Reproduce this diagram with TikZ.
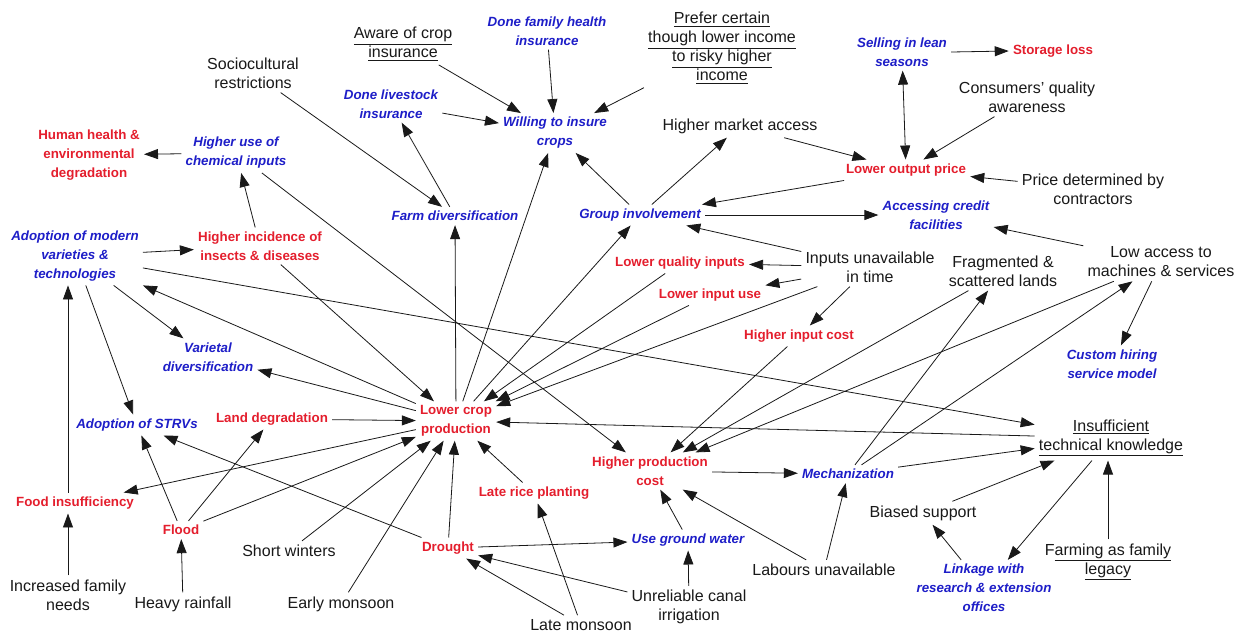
\documentclass[tikz,border=0pt]{standalone}
\usepackage{fontspec}
\setmainfont{Liberation Sans}
\usetikzlibrary{arrows.meta}
\definecolor{redtxt}{RGB}{228,30,45}
\definecolor{bluetxt}{RGB}{30,30,200}
\tikzset{
  base/.style={align=center, inner sep=3pt},
  bk/.style={base, font=\fontsize{12}{14.2}\selectfont, text=black!90},
  rd/.style={base, font=\fontsize{10}{14.2}\selectfont\bfseries, text=redtxt},
  bl/.style={base, font=\fontsize{10}{14.2}\selectfont\bfseries\itshape, text=bluetxt},
  tip/.style={Triangle[length=10.5pt,width=7.5pt]},
  link/.style={draw=black!90, line width=0.6pt, -{Triangle[length=10.5pt,width=7.5pt]}},
  both/.style={draw=black!90, line width=0.6pt, {Triangle[length=10.5pt,width=7.5pt]}-{Triangle[length=10.5pt,width=7.5pt]}}
}
\begin{document}
\begin{tikzpicture}[x=0.75pt,y=-0.75pt]
\useasboundingbox[fill=white] (0,0) rectangle (1245,633);

% causes and contexts (black)
\node[bk] (socio)   at (253,73)  {Sociocultural\\restrictions};
\node[bk] (aware)   at (403,44)  {\underline{Aware of crop}\\\underline{insurance}};
\node[bk] (prefer)  at (722,48)  {\underline{Prefer certain}\\\underline{though lower income}\\\underline{to risky higher}\\\underline{income}};
\node[bk] (market)  at (740,126) {Higher market access};
\node[bk] (consum)  at (1027,97) {Consumers' quality\\awareness};
\node[bk] (pricedet) at (1093,189) {Price determined by\\contractors};
\node[bk] (inputs)  at (870,267) {Inputs unavailable\\in time};
\node[bk] (frag)    at (1003,271) {Fragmented \&\\scattered lands};
\node[bk] (lowacc)  at (1161,262) {Low access to\\machines \& services};
\node[bk] (insuf)   at (1111,438) {\underline{Insufficient}\\\underline{technical knowledge}};
\node[bk] (biased)  at (923,513) {Biased support};
\node[bk] (legacy)  at (1108,562) {F\underline{arming as family}\\\underline{legacy}};
\node[bk] (labour)  at (824,570) {Labours unavailable};
\node[bk] (canal)   at (689,607) {Unreliable canal\\irrigation};
\node[bk] (latemon) at (581,625) {Late monsoon};
\node[bk] (earlymon) at (341,604) {Early monsoon};
\node[bk] (winter)  at (289,551) {Short winters};
\node[bk] (rain)    at (183,604) {Heavy rainfall};
\node[bk] (family)  at (68,595)  {Increased family\\needs};

% problems (red)
\node[rd] (health)  at (89,155)  {Human health \&\\environmental\\degradation};
\node[rd] (insect)  at (260,246) {Higher incidence of\\insects \& diseases};
\node[rd] (lop)     at (906,170) {Lower output price};
\node[rd] (storage) at (1053,51) {Storage loss};
\node[rd] (lqi)     at (680,263) {Lower quality inputs};
\node[rd] (liu)     at (710,295) {Lower input use};
\node[rd] (hic)     at (799,336) {Higher input cost};
\node[rd] (landdeg) at (272,419) {Land degradation};
\node[rd] (lcp)     at (456,421) {Lower crop\\production};
\node[rd] (hpc)     at (650,471) {Higher production\\cost};
\node[rd] (laterice) at (534,493) {Late rice planting};
\node[rd] (food)    at (75,503)  {Food insufficiency};
\node[rd] (flood)   at (181,530) {Flood};
\node[rd] (drought) at (448,548) {Drought};

% responses (blue)
\node[bl] (health2) at (547,31)  {Done family health\\insurance};
\node[bl] (livest)  at (391,104) {Done livestock\\insurance};
\node[bl] (willing) at (555,133) {Willing to insure\\crops};
\node[bl] (sell)    at (902,52)  {Selling in lean\\seasons};
\node[bl] (chem)    at (236,153) {Higher use of\\chemical inputs};
\node[bl] (farmdiv) at (455,216) {Farm diversification};
\node[bl] (group)   at (640,215) {Group involvement};
\node[bl] (credit)  at (936,215) {Accessing credit\\facilities};
\node[bl] (modern)  at (75,256)  {Adoption of modern\\varieties \&\\technologies};
\node[bl] (vardiv)  at (208,357) {Varietal\\diversification};
\node[bl] (custom)  at (1112,364) {Custom hiring\\service model};
\node[bl] (strv)    at (137,425) {Adoption of STRVs};
\node[bl] (mech)    at (848,474) {Mechanization};
\node[bl] (ground)  at (688,540) {Use ground water};
\node[bl] (linkage) at (984,588) {Linkage with\\research \& extension\\offices};

% insurance cluster
\draw[link] (livest) -- (willing);
\draw[link] (aware) -- (willing);
\draw[link] (health2) -- (willing);
\draw[link] (prefer) -- (willing);
\draw[link] (group) -- (willing);
\draw[link] (lcp) -- (willing);
\draw[link] (farmdiv) -- (livest);
\draw[link] (socio) -- (farmdiv);
\draw[link] (lcp) -- (farmdiv);

% market cluster
\draw[link] (group) -- (market);
\draw[link] (market) -- (lop);
\draw[link] (lop) -- (group);
\draw[link] (group) -- (credit);
\draw[link] (inputs) -- (group);
\draw[link] (lcp) -- (group);
\draw[both] (sell) -- (lop);
\draw[link] (sell.east) -- (storage.west);
\draw[link] (consum) -- (lop);
\draw[link] (pricedet) -- (lop);
\draw[link] (lowacc) -- (credit);
\draw[link] (lowacc) -- (custom);

% inputs
\draw[link] (inputs) -- (lqi);
\draw[link] (inputs) -- (liu);
\draw[link] (inputs) -- (hic);
\draw[link] (inputs) -- (lcp);
\draw[link] (lqi) -- (lcp);
\draw[link] (liu) -- (lcp);

% chemicals and varieties
\draw[link] (chem) -- (health);
\draw[link] (insect) -- (chem);
\draw[link] (chem) -- (hpc);
\draw[link] (insect) -- (lcp);
\draw[link] (modern) -- (insect);
\draw[link] (modern) -- (insuf);
\draw[link] (modern) -- (vardiv);
\draw[link] (modern) -- (strv);
\draw[link] (lcp) -- (modern);
\draw[link] (lcp) -- (vardiv);
\draw[link] (lcp) -- (food);
\draw[link] (family.north) -- (family.north |- food.south);
\draw[link] (family.north |- food.north) -- (family.north |- modern.south);

% climate
\draw[link] (landdeg) -- (lcp);
\draw[link] (flood) -- (landdeg);
\draw[link] (flood) -- (strv);
\draw[link] (flood) -- (lcp);
\draw[link] (rain) -- (flood);
\draw[link] (winter) -- (lcp);
\draw[link] (earlymon) -- (lcp);
\draw[link] (drought) -- (lcp);
\draw[link] (drought) -- (strv);
\draw[link] (drought) -- (ground);
\draw[link] (laterice) -- (lcp);
\draw[link] (latemon) -- (laterice);
\draw[link] (latemon) -- (drought);
\draw[link] (canal) -- (drought);
\draw[link] (canal) -- (ground);

% production cost and mechanization
\draw[link] (ground) -- (hpc);
\draw[link] (labour) -- (hpc);
\draw[link] (labour) -- (mech);
\draw[link] (hic) -- (hpc);
\draw[link] (frag) -- (hpc);
\draw[link] (lowacc) -- (hpc);
\draw[link] (hpc) -- (mech);
\draw[link] (mech) -- (frag);
\draw[link] (mech) -- (lowacc);
\draw[link] (mech) -- (insuf);

% knowledge
\draw[link] (insuf) -- (lcp);
\draw[link] (biased) -- (insuf);
\draw[link] (insuf) -- (linkage);
\draw[link] (linkage) -- (biased);
\draw[link] (legacy.north) -- (legacy.north |- insuf.south);
\end{tikzpicture}
\end{document}
